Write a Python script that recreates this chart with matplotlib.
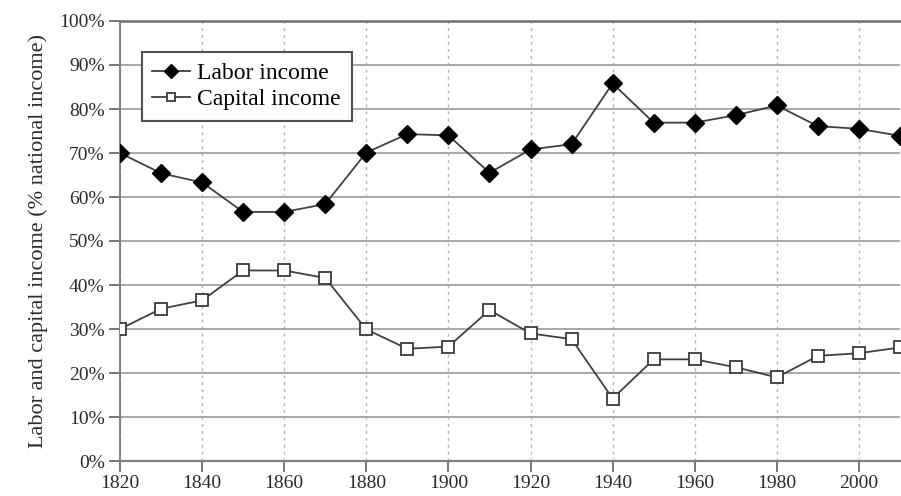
import matplotlib
matplotlib.use("Agg")
import matplotlib.pyplot as plt
import matplotlib.ticker as mtick

plt.rcParams['font.family'] = ['Liberation Serif', 'DejaVu Serif']

# data
years = [1820, 1830, 1840, 1850, 1860, 1870, 1880, 1890, 1900, 1910,
         1920, 1930, 1940, 1950, 1960, 1970, 1980, 1990, 2000, 2010]
labor = [70.0, 65.4, 63.3, 56.6, 56.6, 58.4, 70.1, 74.3, 74.0, 65.5,
         70.8, 72.0, 85.8, 76.9, 76.9, 78.6, 80.8, 76.1, 75.5, 73.9]
capital = [30.0, 34.6, 36.5, 43.3, 43.3, 41.6, 29.9, 25.5, 26.0, 34.3,
           29.0, 27.7, 14.2, 23.1, 23.1, 21.3, 19.0, 23.9, 24.5, 25.8]
x_ticks = list(range(1820, 2001, 20))
y_ticks = list(range(0, 101, 10))

fig = plt.figure(figsize=(9.01, 4.96), dpi=100)
ax = fig.add_axes([120 / 901, 1 - 461 / 496, 780 / 901, 440 / 496])

ax.plot(years, labor, color='#404040', lw=1.3, marker='D', ms=9,
        mfc='black', mec='black', label='Labor income', zorder=3)
ax.plot(years, capital, color='#404040', lw=1.3, marker='s', ms=8.5,
        mfc='white', mec='#3a3a3a', mew=1.3, label='Capital income', zorder=3)

ax.set_xlim(1820, 2010)
ax.set_ylim(0, 100)
ax.set_xticks(x_ticks)
ax.set_yticks(y_ticks)
ax.yaxis.set_major_formatter(mtick.FuncFormatter(lambda v, p: f'{v:.0f}%'))

# grid: solid horizontal, dotted vertical
ax.grid(axis='y', color='#a8a8a8', lw=1.4, ls='-')
ax.grid(axis='x', color='#b0b0b0', lw=1.0, ls=(0, (2, 3)))
ax.set_axisbelow(True)

ax.spines['right'].set_visible(False)
ax.spines['top'].set_color('#707070')
ax.spines['top'].set_linewidth(1.8)
ax.spines['left'].set_color('#808080')
ax.spines['left'].set_linewidth(1.4)
ax.spines['bottom'].set_color('#808080')
ax.spines['bottom'].set_linewidth(1.6)

ax.tick_params(axis='both', direction='out', length=8, width=1.2,
               color='#606060', labelsize=14, labelcolor='#2a2a2a')
ax.tick_params(axis='y', pad=3)
ax.tick_params(axis='x', pad=2)

ax.set_ylabel('Labor and capital income (% national income)', fontsize=16,
              color='#2a2a2a', labelpad=8)

leg = ax.legend(loc='upper left', bbox_to_anchor=(0.028, 0.93), fancybox=False,
                framealpha=1, edgecolor='#505050', fontsize=17, markerscale=0.75,
                handlelength=1.6, handletextpad=0.3, borderpad=0.45,
                labelspacing=0.2, borderaxespad=0)
leg.get_frame().set_linewidth(1.5)

fig.savefig('out.png', dpi=100, facecolor='white')
